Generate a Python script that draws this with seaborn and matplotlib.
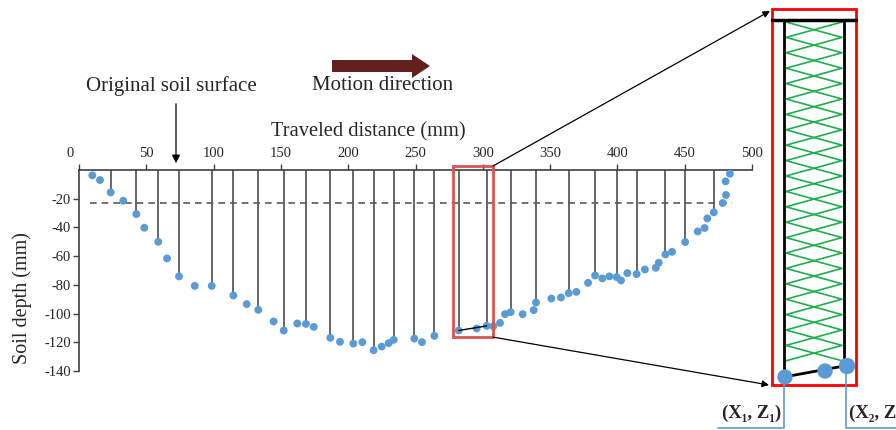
import matplotlib
matplotlib.use("Agg")
import matplotlib.pyplot as plt
from matplotlib.patches import Rectangle, FancyArrow, Circle, ConnectionPatch
from matplotlib.transforms import ScaledTranslation
import pandas as pd
import seaborn as sns

# Furrow profile: traveled distance (mm) vs soil depth (mm)
dist_mm = [9.9, 15.6, 23.5, 32.9, 42.6, 48.5, 58.9, 65.4, 74.3, 86.0,
           98.6, 114.7, 124.6, 133.2, 144.6, 152.1, 162.2, 168.6, 174.4, 186.7,
           193.9, 203.8, 210.5, 218.9, 224.9, 230.1, 233.8, 249.1, 254.8, 264.0,
           282.1, 295.4, 302.9, 307.8, 312.8, 316.5, 320.7, 329.6, 337.8, 339.5,
           350.9, 358.1, 363.8, 369.5, 378.2, 383.4, 388.8, 394.0, 399.5, 402.7,
           407.4, 414.3, 420.4, 428.5, 430.7, 435.7, 440.6, 450.3, 459.7, 464.8,
           466.8, 471.6, 478.2, 480.7, 480.4, 483.6]
depth_mm = [-3.7, -7.0, -15.6, -21.4, -30.7, -40.2, -50.0, -61.6, -74.1, -80.7,
            -80.7, -87.4, -93.4, -97.4, -105.5, -111.8, -106.9, -107.2, -109.3, -116.9,
            -119.7, -120.9, -119.9, -125.5, -123.0, -120.6, -118.3, -117.4, -119.9, -115.5,
            -111.8, -110.4, -108.6, -108.8, -106.5, -100.4, -99.0, -100.4, -97.6, -92.3,
            -89.5, -88.8, -85.8, -84.9, -78.6, -73.5, -75.5, -74.1, -74.6, -76.9,
            -71.8, -72.5, -69.3, -68.1, -64.6, -58.8, -57.0, -50.2, -42.8, -40.4,
            -33.7, -29.5, -23.0, -17.4, -7.9, -2.6]

# points reached by a vertical depth probe
probe_idx = [2, 4, 6, 8, 10, 11, 13, 15, 17, 19, 21, 23, 26, 27, 29,
             30, 32, 36, 39, 42, 45, 48, 51, 55, 57, 61]
# pair of probe points joined inside the magnified window
segment_idx = [30, 32]

x_ticks = [0, 50, 100, 150, 200, 250, 300, 350, 400, 450, 500]
y_ticks = [-20, -40, -60, -80, -100, -120, -140]
surface_level = -23.2
surface_span = [8.2, 485.0]
window_x = [277.9, 307.6]
window_y = [-116.4, 2.8]

sns.set_theme(style="white")
plt.rcParams["font.family"] = ["Liberation Serif", "DejaVu Serif"]
plt.rcParams["axes.unicode_minus"] = False

W, H = 896, 430
fig = plt.figure(figsize=(W / 100, H / 100), dpi=100)
ax = fig.add_axes([79 / W, 1 - 371 / H, (752 - 79) / W, (371 - 170) / H])

df = pd.DataFrame({"dist": dist_mm, "depth": depth_mm})
probes = df.iloc[probe_idx]

ax.vlines(probes["dist"], 0, probes["depth"], color="#5a5a5a", lw=1.3, zorder=2)
ax.hlines(surface_level, surface_span[0], surface_span[1], color="#5a5a5a",
          lw=1.2, linestyles=(0, (4, 3)), zorder=2)
seg = df.iloc[segment_idx]
ax.plot(seg["dist"], seg["depth"], color="black", lw=1.0, zorder=4)
sns.scatterplot(data=df, x="dist", y="depth", color="#5b9bd5", s=32,
                edgecolor="none", zorder=3, ax=ax, legend=False)

ax.add_patch(Rectangle((window_x[0], window_y[0]), window_x[1] - window_x[0],
                       window_y[1] - window_y[0], fill=False,
                       edgecolor="#d9534f", lw=2, clip_on=False, zorder=5))

ax.set_xlim(0, 500)
ax.set_ylim(-140, 0)
ax.set_xticks(x_ticks)
ax.set_yticks(y_ticks)
ax.xaxis.tick_top()
ax.tick_params(axis="x", direction="out", length=4, width=1, color="#404040",
               top=True, bottom=False, labeltop=True, labelbottom=False,
               labelsize=10.5, pad=3)
ax.tick_params(axis="y", direction="out", length=4, width=1, color="#404040",
               left=True, labelsize=10.5, pad=2)
ax.set_xlabel("")
ax.set_ylabel("")
for side in ["right", "bottom"]:
    ax.spines[side].set_visible(False)
for side in ["top", "left"]:
    ax.spines[side].set_color("#404040")
    ax.spines[side].set_linewidth(1.2)
ax.set_facecolor("none")

# the origin label sits just left of the corner
fig.canvas.draw()
zero_lbl = ax.xaxis.get_major_ticks()[0].label2
zero_lbl.set_transform(zero_lbl.get_transform() + ScaledTranslation(-0.09, 0, fig.dpi_scale_trans))

# pixel-space overlay for annotations and the magnified window
ov = fig.add_axes([0, 0, 1, 1], zorder=10)
ov.set_xlim(0, W)
ov.set_ylim(H, 0)
ov.axis("off")
ov.patch.set_alpha(0)

ov.text(368, 132, "Traveled distance (mm)", ha="center", va="center", fontsize=14.8)
ov.text(171, 86, "Original soil surface", ha="center", va="center", fontsize=15)
ov.text(383, 86, "Motion direction", ha="center", va="center", fontsize=15)
ov.text(22, 298, "Soil depth (mm)", ha="center", va="center", rotation=90, fontsize=14.5)

ov.annotate("", xy=(176, 166), xytext=(176, 101),
            arrowprops=dict(arrowstyle="-|>", color="black", lw=0.9, mutation_scale=12))
ov.add_patch(FancyArrow(332, 66, 98, 0, width=12, head_width=24, head_length=18,
                        length_includes_head=True, color="#63201f", lw=0))

# magnified window
ov.add_patch(Rectangle((772, 9), 84, 376, fill=False, edgecolor="#ff0000", lw=2))
ov.plot([772, 856], [20, 20], color="black", lw=2.5)
ov.plot([784, 784], [20, 377], color="black", lw=2)
ov.plot([844, 844], [20, 366], color="black", lw=2)
ov.plot([784, 844], [377, 366], color="black", lw=2)

left_wall, right_wall = 786, 842
step = 15.4
ys = [22 + step * k for k in range(23)]
for start in (0, 1):
    xs = [left_wall if (k + start) % 2 == 0 else right_wall for k in range(len(ys))]
    ov.plot(xs, ys, color="#1fae4e", lw=1.2, zorder=1)

for cx, cy, r in [(785, 377, 7), (825, 371, 7), (847, 366, 7.5)]:
    ov.add_patch(Circle((cx, cy), r, color="#5b9bd5", zorder=3))

ov.plot([784, 784, 718], [384, 428, 428], color="#5b9bd5", lw=1.2)
ov.plot([846, 846, 896], [373, 428, 428], color="#5b9bd5", lw=1.2)
ov.text(752, 413, "(X₁, Z₁)", ha="center", va="center", fontsize=13.5, fontweight="bold")
ov.text(849, 413, "(X₂, Z₂)", ha="left", va="center", fontsize=13.5, fontweight="bold")

fig.add_artist(ConnectionPatch(xyA=(window_x[1], window_y[1]), coordsA=ax.transData,
                               xyB=(770, 11), coordsB=ov.transData,
                               arrowstyle="-|>", color="black", lw=0.9, mutation_scale=10))
fig.add_artist(ConnectionPatch(xyA=(window_x[1], window_y[0]), coordsA=ax.transData,
                               xyB=(769, 385), coordsB=ov.transData,
                               arrowstyle="-|>", color="black", lw=0.9, mutation_scale=10))

fig.savefig("out.png", dpi=100)
